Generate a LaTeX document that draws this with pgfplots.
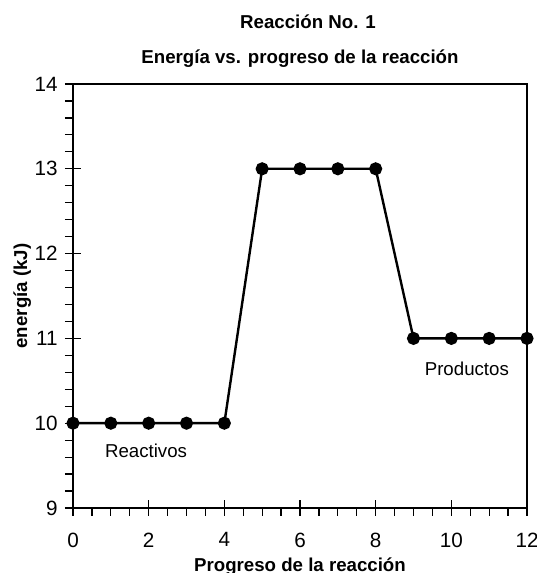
\documentclass[border=0pt]{standalone}
\usepackage{fontspec}
\setmainfont{Liberation Sans}
\usepackage{pgfplots}
\pgfplotsset{compat=1.18}
\begin{document}
\begin{tikzpicture}
\pgfplotstableread{
x y
0 10
1 10
2 10
3 10
4 10
5 13
6 13
7 13
8 13
9 11
10 11
11 11
12 11
}\energia
\begin{axis}[
  scale only axis,
  width=340.5pt, height=318pt,
  xmin=0, xmax=12, ymin=9, ymax=14,
  xtick={0,2,...,12}, ytick={9,10,...,14},
  minor x tick num=3, minor y tick num=4,
  tick pos=left,
  tick align=outside,
  major tick length=6pt, minor tick length=6pt,
  every tick/.style={black, line width=0.9pt},
  axis line style={black, line width=0.9pt},
  extra x ticks={0,2,...,12}, extra x tick labels={},
  extra y ticks={9,10,...,14}, extra y tick labels={},
  extra tick style={tick align=inside, major tick length=6pt},
  /pgf/number format/assume math mode=true,
  tick label style={font=\fontsize{15.5}{17}\selectfont},
  xticklabel style={yshift=-9pt},
  yticklabel style={xshift=-2pt},
  xlabel={Progreso de la reacción},
  ylabel={energía (kJ)},
  xlabel style={font=\bfseries\fontsize{14}{16}\selectfont, at={(axis description cs:0.5,0)}, anchor=base, yshift=-47.25pt},
  ylabel style={font=\bfseries\fontsize{14}{16}\selectfont, at={(axis description cs:-0.1116,0.5)}, anchor=center, rotate=0},
  clip=false,
]
\addplot[black, line width=1.8pt, mark=*, mark size=4pt, mark options={fill=black}] table[x=x, y=y] {\energia};
\node[font=\fontsize{14}{16}\selectfont] at (axis cs:1.93,9.68) {Reactivos};
\node[font=\fontsize{14}{16}\selectfont] at (axis cs:10.41,10.64) {Productos};
\end{axis}
\node[anchor=base, font=\bfseries\fontsize{14}{16}\selectfont] at ([yshift=41.25pt, xshift=6pt]current axis.north) {Reacción No. 1};
\node[anchor=base, font=\bfseries\fontsize{14}{16}\selectfont] at ([yshift=15pt]current axis.north) {Energía vs. progreso de la reacción};
\pgfresetboundingbox
\useasboundingbox ([xshift=-54.75pt, yshift=-48.75pt]current axis.south west) rectangle ([xshift=7.5pt, yshift=63pt]current axis.north east);
\end{tikzpicture}
\end{document}
